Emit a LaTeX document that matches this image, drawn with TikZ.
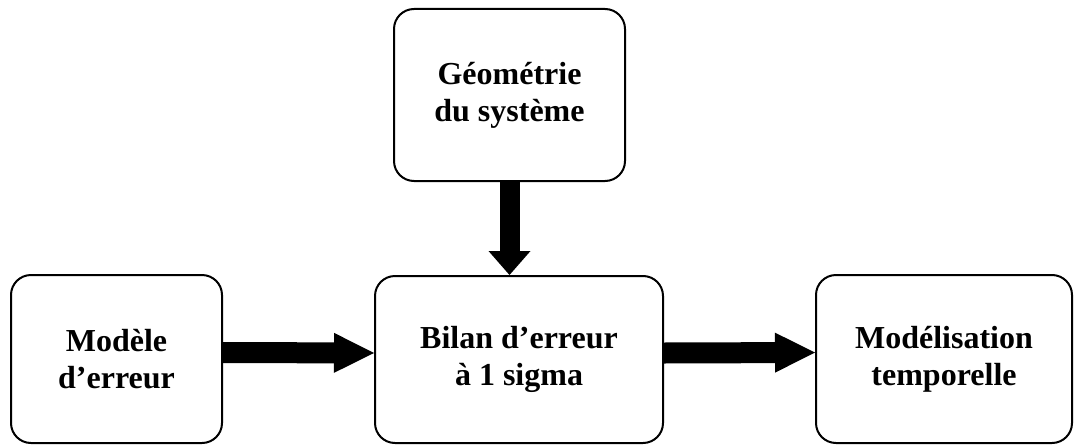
\documentclass[tikz,border=0pt]{standalone}
\usepackage{fontspec}
\setmainfont{Liberation Serif}
\usetikzlibrary{arrows.meta}
\usetikzlibrary{positioning}

\begin{document}
\begin{tikzpicture}[x=0.5pt, y=-0.5pt,
    boite/.style={draw, line width=1pt, rectangle, rounded corners=10pt, inner sep=0pt, align=center, font=\fontsize{16}{18.5}\selectfont\bfseries},
    grosfleche/.style={line width=10.5pt, -{Triangle[length=20pt, width=20pt, line width=0pt]}},
    flechebas/.style={line width=10pt, -{Triangle[length=12pt, width=21pt, line width=0pt]}}]
    \useasboundingbox (0,0) rectangle (1074,444);
    % Chaine de calcul
    \node[boite, minimum width=115.5pt, minimum height=86pt] (geometrie) at (509.5,95) {G\'eom\'etrie\\du syst\`eme};
    \node[boite, minimum width=105.5pt, minimum height=84pt] (modele) at (116.5,359) {Mod\`ele\\d’erreur};
    \node[boite, minimum width=144pt, minimum height=83.5pt] (bilan) at (519,359.5) {Bilan d’erreur\\\`a 1 sigma};
    \node[boite, minimum width=128pt, minimum height=84pt] (temporelle) at (944,359) {Mod\'elisation\\temporelle};

    \draw[flechebas] (geometrie.south) -- (geometrie.south |- bilan.north);
    \draw[grosfleche] ([yshift=3.25pt]modele.east) -- ([yshift=3.25pt]bilan.west);
    \draw[grosfleche] ([yshift=3.25pt]bilan.east) -- ([yshift=3.25pt]temporelle.west);
\end{tikzpicture}
\end{document}
